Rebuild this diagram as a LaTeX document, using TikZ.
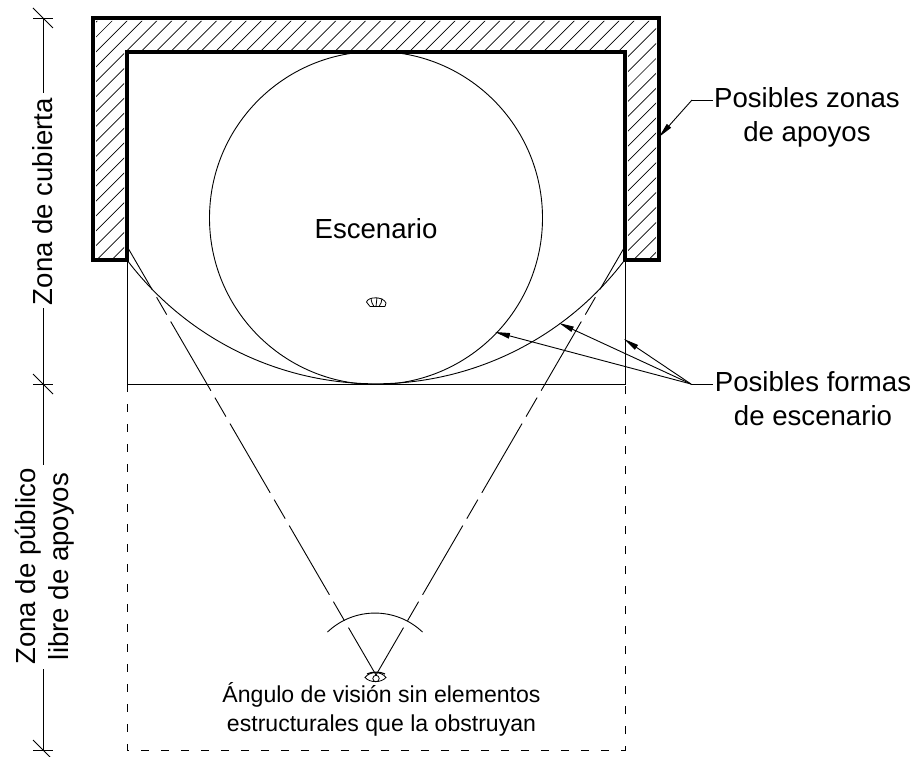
\documentclass[tikz,border=0pt]{standalone}
\usepackage{fontspec}
\setmainfont{Liberation Sans}
\usetikzlibrary{arrows.meta}
\tikzset{
  x=1pt,y=-1pt,
  thin line/.style={line width=0.9pt,black},
  thick wall/.style={line width=3.4pt,black,line join=miter},
  hatchline/.style={line width=0.7pt,black},
  leader/.style={thin line,-{Triangle[length=15pt,width=5.5pt]}},
  dashrect/.style={line width=0.9pt,dash pattern=on 8.3pt off 11.7pt},
  sight/.style={line width=0.9pt,dash pattern=on 48pt off 9pt on 20pt off 8pt on 80pt off 8pt on 22pt off 8pt on 80pt off 8pt on 22pt off 8pt on 80pt off 8pt on 22pt off 8pt on 80pt},
  lab/.style={font=\fontsize{27.6pt}{34pt}\selectfont,inner sep=0pt,align=center,anchor=center},
  smalllab/.style={font=\fontsize{23.07pt}{29pt}\selectfont,inner sep=0pt,align=center,anchor=center},
  eyeline/.style={line width=0.8pt,black},
}
\begin{document}
\begin{tikzpicture}
\useasboundingbox (0,0) rectangle (915,757);
% hatch
\begin{scope}
\clip (96,21) -- (656,21) -- (656,258) -- (628,258) -- (628,50) -- (124,50) -- (124,258) -- (96,258) -- cycle;
\foreach \c in {0,...,60} {
  \pgfmathsetmacro{\k}{118.09+14.91*\c}
  \draw[hatchline] (\k,0) -- (\k-300,300);
}
\end{scope}
% wall
\draw[thick wall] (93,260) -- (93,18) -- (659,18) -- (659,260) -- (625,260) -- (625,52) -- (127,52) -- (127,260) -- cycle;
% stage shapes
\coordinate (lc) at (127,260);
\coordinate (rc) at (625,260);
\draw[thin line] (376,218) circle (166.5);
\draw[thin line] (127,260) -- (127,384) -- (625,384) -- (625,260);
\draw[thin line] (lc) arc[start angle=142.9,end angle=37.1,x radius=312,y radius=312];
% dashed public zone
\draw[dashrect] (127,384) -- (127,750) -- (625,750) -- (625,384) -- cycle;
% sight lines
\coordinate (eye) at (376,675);
\coordinate (sl) at (128,248);
\coordinate (sr) at (624,248);
\draw[sight] (sl) -- (eye);
\draw[sight] (sr) -- (eye);
\draw[thin line] (327.5,632) arc[start angle=226.5,end angle=313.5,x radius=69,y radius=69];
% viewer eye
\draw[eyeline] (365,677.5) .. controls (370,671) and (381,671) .. (386,677.5) .. controls (381,683) and (370,683) .. cycle;
\draw[eyeline] (376,678.5) circle (3.2);
\draw[line width=1.1pt] (367,674) .. controls (371,671.5) and (381,671.5) .. (385,674);
% stage eye
\draw[eyeline] (366.5,302) .. controls (368,296.5) and (383,296) .. (386,303);
\draw[eyeline] (366.5,302) -- (370,306.5);
\draw[eyeline] (371,298) .. controls (371.5,302) and (372,304) .. (374,306.5);
\draw[eyeline] (377,297.5) -- (376,306.5);
\draw[eyeline] (382,298.5) .. controls (381.5,302) and (381,304) .. (379,306.5);
\draw[line width=1.4pt] (370,306.5) -- (385,306.5);
\draw[eyeline] (386,303) -- (385,306.5);
% dimension
\foreach \yy in {18,384,750} {
  \draw[thin line] (33,\yy) -- (53,\yy);
  \draw[thin line] (33,\yy-10) -- (53,\yy+10);
}
% labels
\node[lab,rotate=90] (zc) at (43,201.5) {Zona de cubierta};
\node[lab,rotate=90] (zp) at (44.5,566.5) {Zona de público\\[-1pt]libre de apoyos};
\node[lab] (esc) at (376,229) {Escenario};
\node[lab,anchor=north] (pz) at (807,87) {Posibles zonas\\de apoyos};
\node[lab,anchor=north] (pf) at (813,371) {Posibles formas\\de escenario};
\node[smalllab,anchor=north] (ang) at (381.5,682) {Ángulo de visión sin elementos\\estructurales que la obstruyan};
\draw[thin line] (43,18) -- (43,93) (43,308) -- (43,465) (43,669) -- (43,750);
% leaders
\coordinate (k1) at (692,100);
\coordinate (k2) at (691,384);
\draw[thin line] (713,100) -- (k1);
\draw[leader] (k1) -- (659,137);
\draw[thin line] (713,384) -- (k2);
\draw[leader] (k2) -- (495,332);
\draw[leader] (k2) -- (559,323);
\draw[leader] (k2) -- (624,339);
\end{tikzpicture}
\end{document}
